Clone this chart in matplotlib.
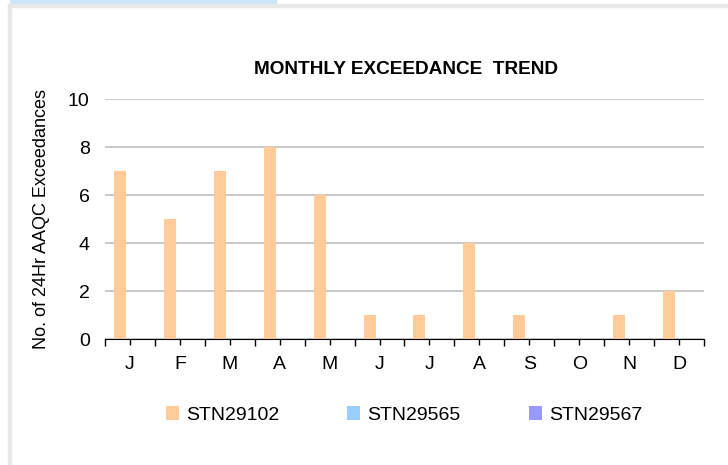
import matplotlib.pyplot as plt
import numpy as np
from matplotlib import patches

months = ['J', 'F', 'M', 'A', 'M', 'J', 'J', 'A', 'S', 'O', 'N', 'D']
stn29102 = [7, 5, 7, 8, 6, 1, 1, 4, 1, 0, 1, 2]
stn29565 = [0, 0, 0, 0, 0, 0, 0, 0, 0, 0, 0, 0]
stn29567 = [0, 0, 0, 0, 0, 0, 0, 0, 0, 0, 0, 0]
series_names = ['STN29102', 'STN29565', 'STN29567']
colors = ['#FFCC99', '#99CCFF', '#9999FF']

plt.rcParams['font.family'] = ['Liberation Sans', 'DejaVu Sans']

W, H = 728, 465
fig = plt.figure(figsize=(W / 100, H / 100), dpi=100)

# page decoration (frame lines / tab strip)
fig.patches.append(patches.Rectangle((10 / W, 1 - 4 / H), 266 / W, 4 / H,
                                     transform=fig.transFigure, color='#CCE8F8', zorder=0))
fig.patches.append(patches.Rectangle((8 / W, 1 - 7 / H), 720 / W, 3 / H,
                                     transform=fig.transFigure, color='#E8E8E8', zorder=0))
fig.patches.append(patches.Rectangle((8 / W, 0), 3 / W, 1 - 4 / H,
                                     transform=fig.transFigure, color='#E8E8E8', zorder=0))

ax = fig.add_axes([105 / W, 1 - 339 / H, 599 / W, 240 / H])

x = np.arange(len(months))
bw = 0.24
for i, (vals, name, c) in enumerate(zip([stn29102, stn29565, stn29567], series_names, colors)):
    ax.bar(x - 0.2 + i * bw, vals, width=bw, color=c, label=name, zorder=3)

ax.set_xlim(-0.5, len(months) - 0.5)
ax.set_ylim(0, 10)
ax.set_yticks(np.arange(0, 11, 2))
ax.yaxis.grid(True, color='#C0C0C0', linewidth=1.2, zorder=0)
ax.tick_params(axis='y', length=0, pad=11, labelsize=14)

ax.set_xticks(np.arange(-0.5, len(months), 1))
ax.set_xticklabels([])
ax.set_xticks(x, minor=True)
ax.set_xticklabels(months, minor=True)
ax.tick_params(axis='x', which='major', length=5, width=1, color='black')
ax.tick_params(axis='x', which='minor', length=4, width=1, color='black', pad=8, labelsize=14)

for s in ['top', 'right', 'left']:
    ax.spines[s].set_visible(False)
ax.spines['bottom'].set_color('black')
ax.spines['bottom'].set_zorder(4)

ax.set_ylabel('No. of 24Hr AAQC Exceedances', fontsize=13)
ax.yaxis.set_label_coords(-55 / 599, 0.5)

fig.text(406 / W, 1 - 69 / H, 'MONTHLY EXCEEDANCE  TREND', ha='center', va='center',
         fontsize=13.7, fontweight='bold')

fig.legend(loc='center', bbox_to_anchor=(404 / W, 1 - 415 / H), ncol=3, frameon=False,
           fontsize=14, handlelength=0.67, handleheight=0.67, columnspacing=3.5,
           handletextpad=0.36)

fig.savefig('out.png', dpi=100, facecolor='white')
